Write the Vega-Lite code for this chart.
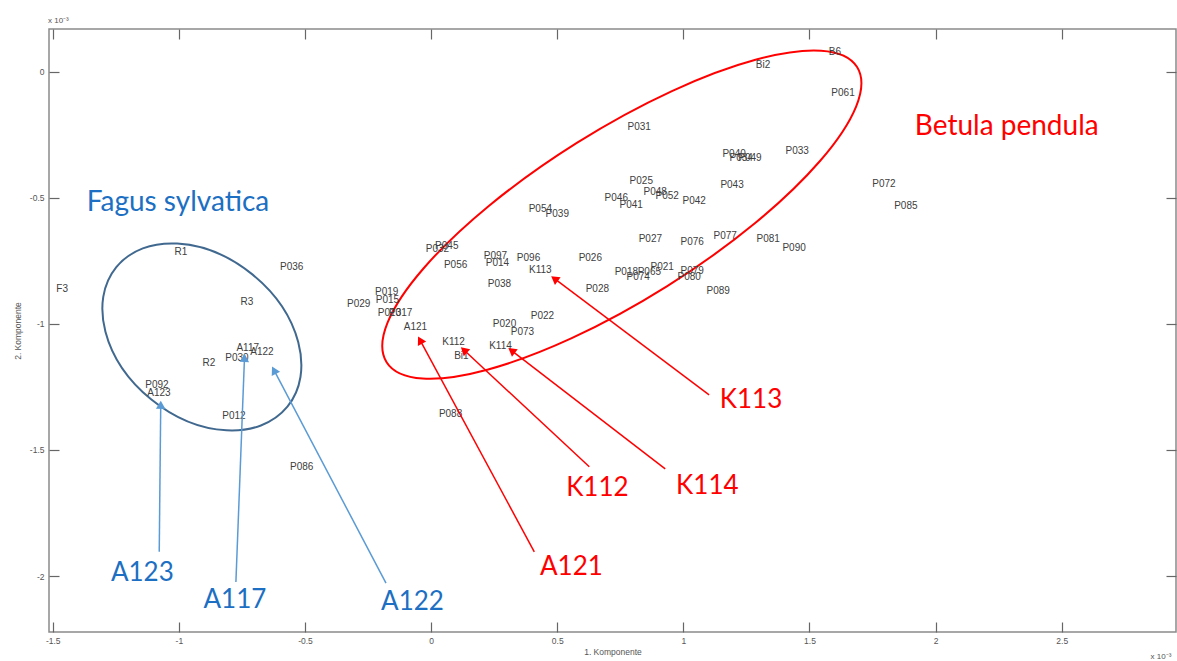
{
  "$schema": "https://vega.github.io/schema/vega-lite/v6.json",
  "width": 1127,
  "height": 603,
  "autosize": {"type": "none"},
  "padding": {"left": 49, "top": 29, "right": 1, "bottom": 29},
  "background": "white",
  "config": {
    "view": {"stroke": "#8a8a8a", "strokeWidth": 1.5},
    "axis": {
      "domain": false,
      "grid": false,
      "tickColor": "#666",
      "tickWidth": 1.2,
      "tickSize": -10,
      "labelFont": "Liberation Sans",
      "labelFontSize": 8.5,
      "labelColor": "#555",
      "titleFont": "Liberation Sans",
      "titleFontSize": 8.5,
      "titleFontWeight": "normal",
      "titleColor": "#555"
    }
  },
  "datasets": {
    "labels": [
      {"label": "B6", "x": 1.601, "y": 0.079},
      {"label": "Bi2", "x": 1.316, "y": 0.028},
      {"label": "P061", "x": 1.633, "y": -0.083},
      {"label": "P031", "x": 0.825, "y": -0.218},
      {"label": "P033", "x": 1.451, "y": -0.313},
      {"label": "P040", "x": 1.201, "y": -0.325},
      {"label": "P034", "x": 1.229, "y": -0.341},
      {"label": "P049", "x": 1.264, "y": -0.341},
      {"label": "P043", "x": 1.193, "y": -0.448},
      {"label": "P025", "x": 0.833, "y": -0.433},
      {"label": "P048", "x": 0.888, "y": -0.476},
      {"label": "P052", "x": 0.936, "y": -0.492},
      {"label": "P046", "x": 0.734, "y": -0.5},
      {"label": "P041", "x": 0.793, "y": -0.528},
      {"label": "P042", "x": 1.043, "y": -0.512},
      {"label": "P054", "x": 0.433, "y": -0.544},
      {"label": "P039", "x": 0.5, "y": -0.563},
      {"label": "P072", "x": 1.795, "y": -0.444},
      {"label": "P085", "x": 1.882, "y": -0.532},
      {"label": "P027", "x": 0.869, "y": -0.663},
      {"label": "P076", "x": 1.035, "y": -0.675},
      {"label": "P077", "x": 1.166, "y": -0.651},
      {"label": "P081", "x": 1.336, "y": -0.663},
      {"label": "P090", "x": 1.439, "y": -0.698},
      {"label": "P026", "x": 0.631, "y": -0.738},
      {"label": "P018", "x": 0.774, "y": -0.794},
      {"label": "P065", "x": 0.865, "y": -0.794},
      {"label": "P074", "x": 0.821, "y": -0.813},
      {"label": "P021", "x": 0.916, "y": -0.774},
      {"label": "P079", "x": 1.035, "y": -0.79},
      {"label": "P080", "x": 1.023, "y": -0.813},
      {"label": "P089", "x": 1.138, "y": -0.869},
      {"label": "P028", "x": 0.659, "y": -0.861},
      {"label": "P045", "x": 0.062, "y": -0.69},
      {"label": "P032", "x": 0.025, "y": -0.702},
      {"label": "P056", "x": 0.097, "y": -0.766},
      {"label": "P097", "x": 0.255, "y": -0.73},
      {"label": "P014", "x": 0.263, "y": -0.758},
      {"label": "P096", "x": 0.386, "y": -0.738},
      {"label": "K113", "x": 0.433, "y": -0.786},
      {"label": "P038", "x": 0.271, "y": -0.841},
      {"label": "P019", "x": -0.176, "y": -0.873},
      {"label": "P015", "x": -0.173, "y": -0.905},
      {"label": "P029", "x": -0.287, "y": -0.921},
      {"label": "P013", "x": -0.165, "y": -0.956},
      {"label": "P017", "x": -0.121, "y": -0.956},
      {"label": "A121", "x": -0.062, "y": -1.012},
      {"label": "P022", "x": 0.441, "y": -0.968},
      {"label": "P020", "x": 0.291, "y": -1.0},
      {"label": "P073", "x": 0.362, "y": -1.032},
      {"label": "K112", "x": 0.089, "y": -1.071},
      {"label": "K114", "x": 0.275, "y": -1.087},
      {"label": "Bi1", "x": 0.12, "y": -1.127},
      {"label": "P088", "x": 0.077, "y": -1.357},
      {"label": "R1", "x": -0.992, "y": -0.714},
      {"label": "P036", "x": -0.553, "y": -0.774},
      {"label": "F3", "x": -1.463, "y": -0.861},
      {"label": "R3", "x": -0.73, "y": -0.913},
      {"label": "A117", "x": -0.727, "y": -1.095},
      {"label": "A122", "x": -0.671, "y": -1.111},
      {"label": "P030", "x": -0.77, "y": -1.135},
      {"label": "R2", "x": -0.881, "y": -1.155},
      {"label": "P092", "x": -1.087, "y": -1.242},
      {"label": "A123", "x": -1.079, "y": -1.274},
      {"label": "P012", "x": -0.782, "y": -1.365},
      {"label": "P086", "x": -0.513, "y": -1.567}
    ],
    "arrows": [
      {"target": "A123", "group": "blue", "x": -1.078, "y": -1.904, "x2": -1.072, "y2": -1.321, "angle": 0.6},
      {"target": "A117", "group": "blue", "x": -0.774, "y": -2.024, "x2": -0.74, "y2": -1.135, "angle": 2.3},
      {"target": "A122", "group": "blue", "x": -0.179, "y": -2.028, "x2": -0.623, "y2": -1.184, "angle": 332.2},
      {"target": "A121", "group": "red", "x": 0.409, "y": -1.904, "x2": -0.044, "y2": -1.065, "angle": 331.5},
      {"target": "K112", "group": "red", "x": 0.627, "y": -1.567, "x2": 0.13, "y2": -1.104, "angle": 312.9},
      {"target": "K114", "group": "red", "x": 0.928, "y": -1.575, "x2": 0.319, "y2": -1.106, "angle": 307.6},
      {"target": "K113", "group": "red", "x": 1.102, "y": -1.282, "x2": 0.489, "y2": -0.821, "angle": 306.8}
    ],
    "species": [
      {"label": "Fagus sylvatica", "group": "blue", "x": -1.004, "y": -0.52},
      {"label": "Betula pendula", "group": "red", "x": 2.282, "y": -0.218}
    ],
    "notes": [
      {"label": "A123", "group": "blue", "x": -1.145, "y": -1.988},
      {"label": "A117", "group": "blue", "x": -0.778, "y": -2.095},
      {"label": "A122", "group": "blue", "x": -0.074, "y": -2.103},
      {"label": "A121", "group": "red", "x": 0.556, "y": -1.964},
      {"label": "K112", "group": "red", "x": 0.659, "y": -1.651},
      {"label": "K114", "group": "red", "x": 1.095, "y": -1.643},
      {"label": "K113", "group": "red", "x": 1.268, "y": -1.302}
    ],
    "multipliers": [
      {"label": "x 10⁻³", "x": -1.519, "y": 0.202},
      {"label": "x 10⁻³", "x": 2.852, "y": -2.321}
    ]
  },
  "layer": [
    {
      "data": {"values": [{"species": "Fagus sylvatica", "x": -0.909, "y": -1.052}]},
      "mark": {
        "type": "point",
        "shape": "M1,0C1,0.402,0.5523,0.728,0,0.728C-0.5523,0.728,-1,0.402,-1,0C-1,-0.402,-0.5523,-0.728,0,-0.728C0.5523,-0.728,1,-0.402,1,0Z",
        "size": 48753,
        "angle": 39.2,
        "filled": false,
        "stroke": "#41698F",
        "strokeWidth": 2,
        "opacity": 1
      },
      "encoding": {
        "x": {"field": "x", "type": "quantitative", "scale": {"domain": [-1.515, 2.953], "nice": false, "zero": false},
              "axis": {"orient": "top", "labels": false, "title": null, "values": [-1.5, -1, -0.5, 0, 0.5, 1, 1.5, 2, 2.5]}},
        "y": {"field": "y", "type": "quantitative", "scale": {"domain": [-2.222, 0.169], "nice": false, "zero": false},
              "axis": {"orient": "right", "labels": false, "title": null, "values": [0, -0.5, -1, -1.5, -2]}}
      }
    },
    {
      "data": {"values": [{"species": "Betula pendula", "x": 0.756, "y": -0.567}]},
      "mark": {
        "type": "point",
        "shape": "M1,0C1,0.1684,0.5523,0.305,0,0.305C-0.5523,0.305,-1,0.1684,-1,0C-1,-0.1684,-0.5523,-0.305,0,-0.305C0.5523,-0.305,1,-0.1684,1,0Z",
        "size": 308469,
        "angle": 327.9,
        "filled": false,
        "stroke": "#FF0000",
        "strokeWidth": 2,
        "opacity": 1
      },
      "encoding": {
        "x": {"field": "x", "type": "quantitative", "axis": null},
        "y": {"field": "y", "type": "quantitative", "axis": null}
      }
    },
    {
      "data": {"name": "labels"},
      "mark": {"type": "text", "font": "Liberation Sans", "fontSize": 10, "color": "#404040", "align": "center", "baseline": "middle"},
      "encoding": {
        "x": {"field": "x", "type": "quantitative",
              "axis": {"orient": "bottom", "title": "1. Komponente", "values": [-1.5, -1, -0.5, 0, 0.5, 1, 1.5, 2, 2.5], "labelExpr": "'' + datum.value", "labelPadding": 14, "titlePadding": 3}},
        "y": {"field": "y", "type": "quantitative",
              "axis": {"orient": "left", "title": "2. Komponente", "values": [0, -0.5, -1, -1.5, -2], "labelExpr": "'' + datum.value", "labelPadding": 15, "titlePadding": 7}},
        "text": {"field": "label"}
      }
    },
    {
      "data": {"name": "arrows"},
      "mark": {"type": "rule", "strokeWidth": 1.5},
      "encoding": {
        "x": {"field": "x", "type": "quantitative", "axis": null},
        "y": {"field": "y", "type": "quantitative", "axis": null},
        "x2": {"field": "x2"},
        "y2": {"field": "y2"},
        "color": {"field": "group", "type": "nominal", "scale": {"domain": ["blue", "red"], "range": ["#5B9BD5", "#FF0000"]}, "legend": null}
      }
    },
    {
      "data": {"name": "arrows"},
      "mark": {"type": "point", "shape": "triangle-up", "filled": true, "size": 90, "opacity": 1},
      "encoding": {
        "x": {"field": "x2", "type": "quantitative", "axis": null},
        "y": {"field": "y2", "type": "quantitative", "axis": null},
        "angle": {"field": "angle", "type": "quantitative", "scale": null},
        "color": {"field": "group", "type": "nominal", "scale": {"domain": ["blue", "red"], "range": ["#5B9BD5", "#FF0000"]}, "legend": null}
      }
    },
    {
      "data": {"name": "notes"},
      "mark": {"type": "text", "font": "Lato", "fontSize": 26, "align": "center", "baseline": "middle"},
      "encoding": {
        "x": {"field": "x", "type": "quantitative", "axis": null},
        "y": {"field": "y", "type": "quantitative", "axis": null},
        "text": {"field": "label"},
        "color": {"field": "group", "type": "nominal", "scale": {"domain": ["blue", "red"], "range": ["#1C6FC2", "#FF0000"]}, "legend": null}
      }
    },
    {
      "data": {"name": "species"},
      "mark": {"type": "text", "font": "Lato", "fontSize": 28, "align": "center", "baseline": "middle"},
      "encoding": {
        "x": {"field": "x", "type": "quantitative", "axis": null},
        "y": {"field": "y", "type": "quantitative", "axis": null},
        "text": {"field": "label"},
        "color": {"field": "group", "type": "nominal", "scale": {"domain": ["blue", "red"], "range": ["#1C6FC2", "#FF0000"]}, "legend": null}
      }
    },
    {
      "data": {"name": "multipliers"},
      "mark": {"type": "text", "font": "Liberation Sans", "fontSize": 8, "color": "#555", "align": "left", "baseline": "middle"},
      "encoding": {
        "x": {"field": "x", "type": "quantitative", "axis": null},
        "y": {"field": "y", "type": "quantitative", "axis": null},
        "text": {"field": "label"}
      }
    }
  ],
  "resolve": {"axis": {"x": "independent", "y": "independent"}, "scale": {"color": "independent"}}
}
